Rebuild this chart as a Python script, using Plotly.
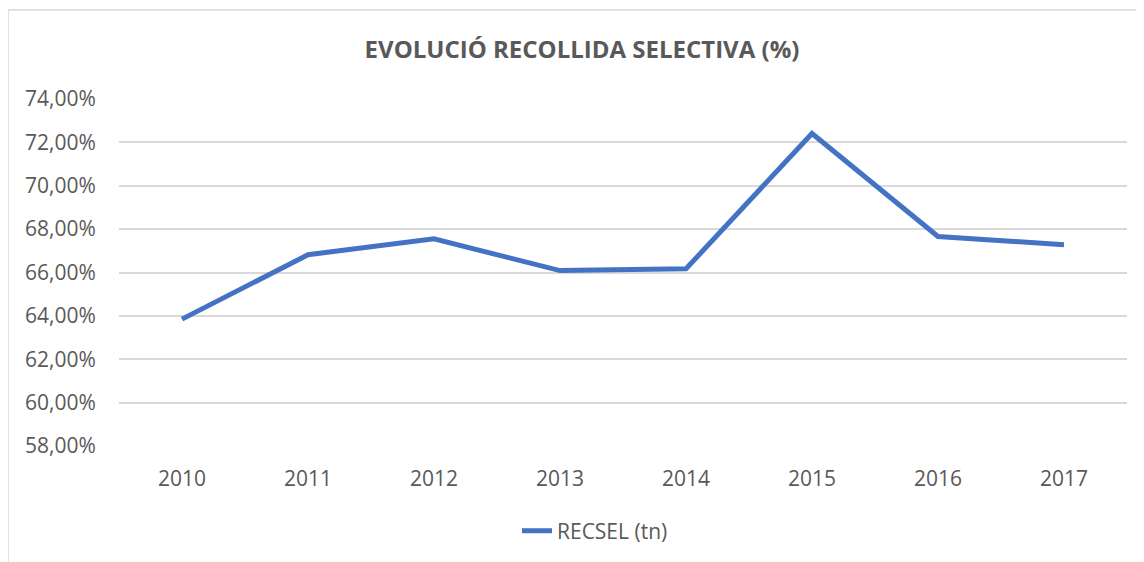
import plotly.graph_objects as go

years = ["2010", "2011", "2012", "2013", "2014", "2015", "2016", "2017"]
recsel = [0.6385, 0.6682, 0.6755, 0.6609, 0.6617, 0.7241, 0.6766, 0.6728]
series_name = "RECSEL (tn)"
title_text = "EVOLUCIÓ RECOLLIDA SELECTIVA (%)"

# page has an 8px body margin; compensate so the plot lands where the reference has it
OFF = 8
PL, PR, PT, PB = 119 - OFF, 1127 - OFF, 99 - OFF, 446 - OFF
W, H = 1144, 562

fig = go.Figure()
fig.add_trace(go.Scatter(
    x=years, y=recsel, mode="lines", name=series_name,
    line=dict(color="#4472C4", width=5, shape="linear"),
))

fig.update_layout(
    width=W, height=H,
    margin=dict(l=PL, r=W - PR, t=PT, b=H - PB, autoexpand=False),
    paper_bgcolor="white", plot_bgcolor="white",
    separators=",.",
    font=dict(family="Open Sans", color="#595959", size=21),
    title=dict(text="<b>" + title_text + "</b>", xref="container", x=(582 - OFF) / W,
               xanchor="center", yref="container", y=1 - (50 - OFF) / H, yanchor="middle",
               font=dict(family="Open Sans", size=24, color="#595959")),
    showlegend=True,
    legend=dict(orientation="h", x=(595 - 119) / 1008, xanchor="center",
                y=(446 - 531) / 347, yanchor="middle",
                font=dict(size=21, color="#595959")),
    xaxis=dict(showgrid=False, showline=False, ticks="outside", ticklen=14,
               tickcolor="rgba(0,0,0,0)", tickfont=dict(size=21), range=[-0.5, 7.5]),
    yaxis=dict(range=[0.58, 0.74], dtick=0.02, tickformat=".2%", showgrid=True,
               gridcolor="#D9D9D9", gridwidth=1.5, zeroline=False, showline=False,
               ticks="outside", ticklen=18, tickcolor="rgba(0,0,0,0)",
               tickfont=dict(size=21)),
    shapes=[dict(type="rect", xref="paper", yref="paper",
                 x0=(8 - 119) / 1008, x1=1.2, y0=-0.8, y1=(446 - 10) / 347,
                 line=dict(color="#D9D9D9", width=1.5), fillcolor="rgba(0,0,0,0)")],
)

fig.write_html("out.html")
